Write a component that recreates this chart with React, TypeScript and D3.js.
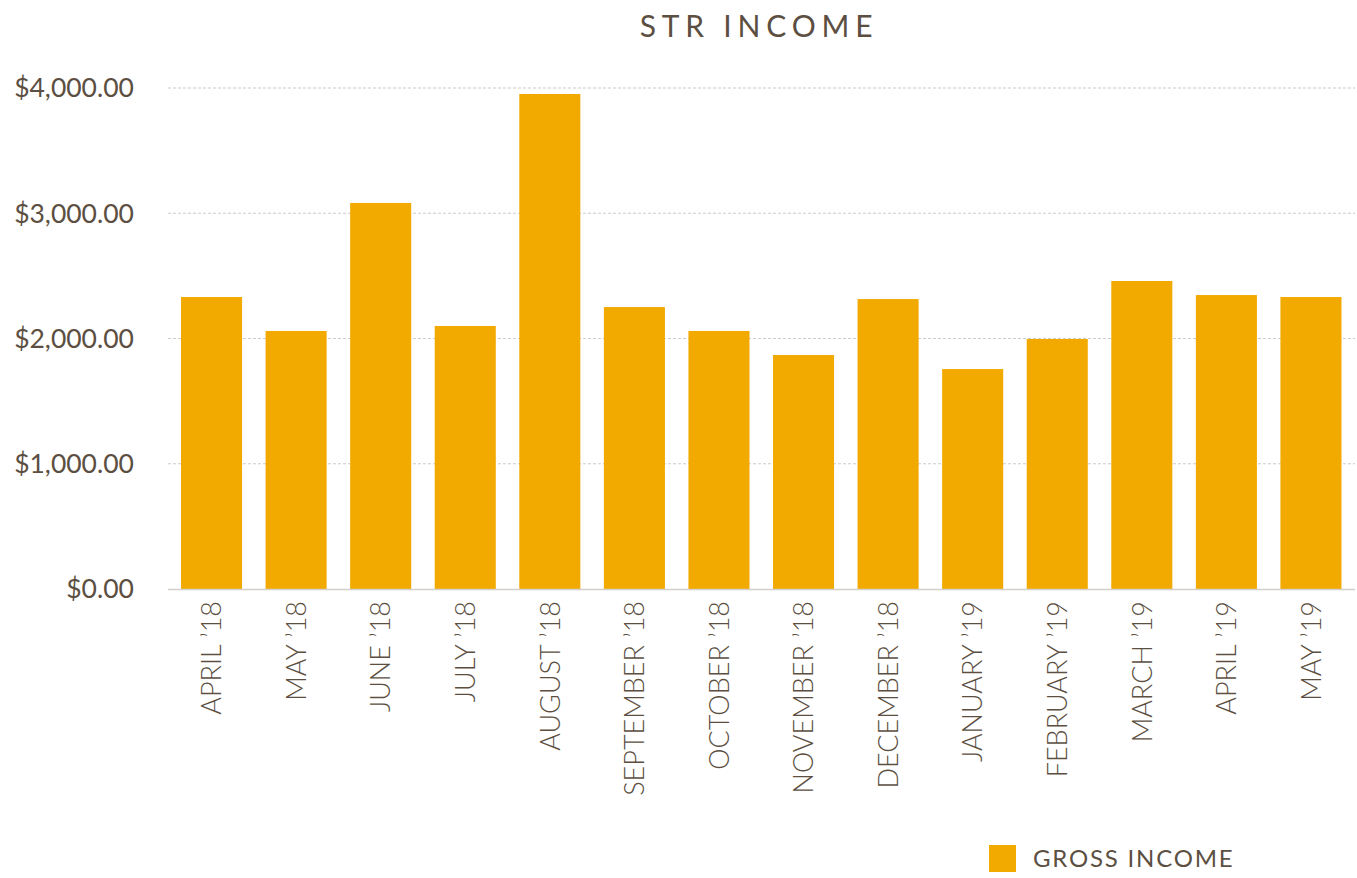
import React from "react";
import * as d3 from "d3";

const months = [
  "APRIL \u201918", "MAY \u201918", "JUNE \u201918", "JULY \u201918", "AUGUST \u201918",
  "SEPTEMBER \u201918", "OCTOBER \u201918", "NOVEMBER \u201918", "DECEMBER \u201918",
  "JANUARY \u201919", "FEBRUARY \u201919", "MARCH \u201919", "APRIL \u201919", "MAY \u201919",
];
const grossIncome = [2331, 2060, 3082, 2100, 3952, 2251, 2060, 1868, 2315, 1756, 1996, 2459, 2347, 2331];
const yTicks = [0, 1000, 2000, 3000, 4000];
const title = "STR INCOME";
const legendLabel = "GROSS INCOME";

const W = 1357;
const H = 878;
const TEXT = "#5c4f42";
const BAR = "#f2a900";
const FONT = "Lato, 'Noto Sans', sans-serif";

export default function App() {
  const x = d3.scaleBand<string>().domain(months).range([168.5, 1354]).paddingInner(0.278).paddingOuter(0.148);
  const y = d3.scaleLinear().domain([0, 4000]).range([589, 88]);
  const fmt = (v: number) => "$" + d3.format(",.2f")(v);

  return (
    <svg width={W} height={H} style={{ position: "absolute", left: 0, top: 0, background: "#fff" }} fontFamily={FONT}>
      <text x={759} y={37} textAnchor="middle" fontSize={30} letterSpacing={5.8} fill={TEXT}>{title}</text>
      {yTicks.filter((t) => t > 0).map((t) => (
        <line key={t} x1={168} x2={1355} y1={y(t)} y2={y(t)} stroke="#cfcbc6" strokeWidth={1.2} strokeDasharray="3,2" />
      ))}
      {yTicks.map((t) => (
        <text key={"l" + t} x={134} y={y(t)} dy="0.35em" textAnchor="end" fontSize={26.5} fill={TEXT}>{fmt(t)}</text>
      ))}
      {months.map((m, i) => (
        <rect key={m} x={x(m)} y={y(grossIncome[i])} width={x.bandwidth()} height={y(0) - y(grossIncome[i])} fill={BAR} />
      ))}
      <line x1={168} x2={1355} y1={589.5} y2={589.5} stroke="#d3cfca" strokeWidth={1.5} />
      {months.map((m) => {
        const cx = (x(m) as number) + x.bandwidth() / 2;
        return (
          <text key={"x" + m} transform={`translate(${cx},601) rotate(-90)`} dy="0.36em" textAnchor="end" fontSize={27} fontWeight={300} fill={TEXT}>{m}</text>
        );
      })}
      <rect x={989} y={845} width={27} height={27} fill={BAR} />
      <text x={1033} y={858} dy="0.36em" fontSize={24} letterSpacing={1.8} fill={TEXT}>{legendLabel}</text>
    </svg>
  );
}
